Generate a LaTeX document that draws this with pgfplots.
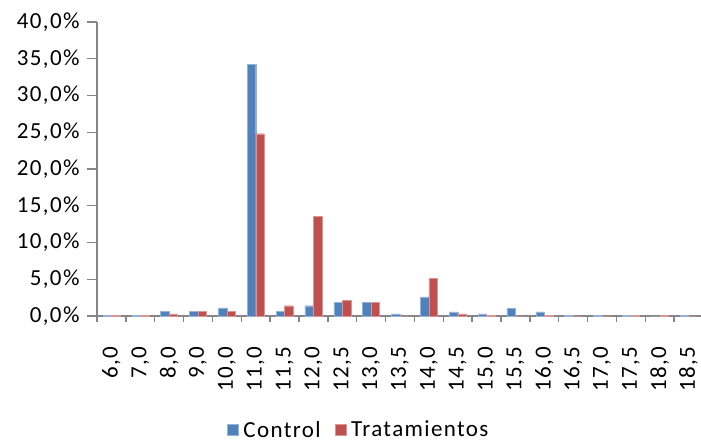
\documentclass[border=0pt]{standalone}
\usepackage{pgfplots}
\pgfplotsset{compat=1.18}
\usepackage{fontspec}
\setmainfont{Carlito}[LetterSpace=6]
\definecolor{ctrl}{HTML}{4F81BD}
\definecolor{trat}{HTML}{C0504D}
\definecolor{axgray}{HTML}{868686}
\begin{document}
\begin{tikzpicture}
\begin{axis}[
  scale only axis,
  width=606pt, height=294pt,
  xmin=-0.5, xmax=20.5,
  ymin=0, ymax=40,
  axis x line=bottom, axis y line=left,
  axis line style={axgray, line width=1.4pt, -},
  ybar=0pt, bar width=8.5pt,
  xtick={0,...,20},
  major x tick style={draw=none},
  minor xtick={-0.5,0.5,...,20.5},
  minor x tick style={axgray, line width=1.4pt},
  minor tick length=6pt,
  xticklabels={{6,0},{7,0},{8,0},{9,0},{10,0},{11,0},{11,5},{12,0},{12,5},{13,0},{13,5},{14,0},{14,5},{15,0},{15,5},{16,0},{16,5},{17,0},{17,5},{18,0},{18,5}},
  xticklabel style={rotate=90, anchor=east, font=\fontsize{23}{26}\selectfont},
  xticklabel shift=17pt,
  ytick={0,5,...,40},
  major y tick style={axgray, line width=1.4pt},
  major tick length=10pt,
  tick align=outside,
  yticklabel={\pgfmathprintnumber[fixed,fixed zerofill,precision=1,use comma]{\tick}\%},
  yticklabel style={font=\fontsize{23}{26}\selectfont},
  yticklabel shift=4pt,
  /pgf/number format/assume math mode=true,
  legend columns=2,
  legend style={at={(0.432,-0.387)}, anchor=center, draw=none, inner sep=1pt, font=\fontsize{23}{26}\selectfont,
     /tikz/every even column/.append style={column sep=12pt}},
  legend image code/.code={\fill[#1] (0pt,-5pt) rectangle (11pt,6pt);},
]
\addplot[fill=ctrl, draw=ctrl!60!white] coordinates {
(0,0.1) (1,0.1) (2,0.6) (3,0.6) (4,1.1) (5,34.2) (6,0.6) (7,1.4) (8,1.9) (9,1.9)
(10,0.3) (11,2.6) (12,0.55) (13,0.3) (14,1.05) (15,0.55) (16,0.1) (17,0.1) (18,0.1) (19,0) (20,0.1)};
\addplot[fill=trat, draw=trat!60!white] coordinates {
(0,0.1) (1,0.1) (2,0.3) (3,0.6) (4,0.6) (5,24.8) (6,1.4) (7,13.6) (8,2.1) (9,1.9)
(10,0.0) (11,5.1) (12,0.3) (13,0.1) (14,0.0) (15,0.1) (16,0.0) (17,0.0) (18,0.1) (19,0.1) (20,0)};
\legend{\hspace{3pt}Control,\hspace{3pt}Tratamientos}
\end{axis}
\pgfresetboundingbox
\path[use as bounding box] (-97pt,-126pt) rectangle (604pt,316pt);
\end{tikzpicture}
\end{document}
